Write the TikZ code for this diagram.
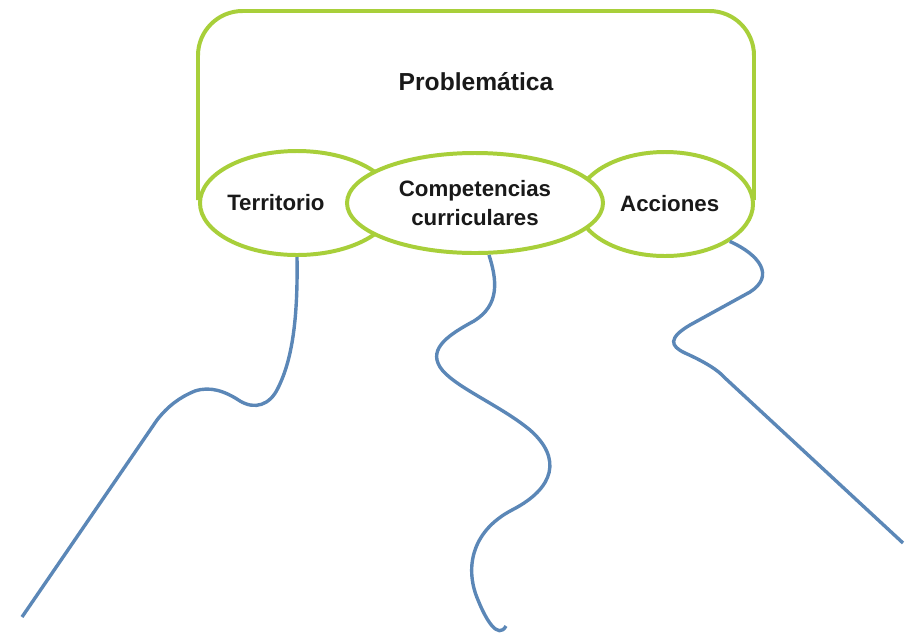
\documentclass[tikz,border=0pt]{standalone}
\usepackage{fontspec}
\setmainfont{Liberation Sans}
\usepackage{tikz}
\usetikzlibrary{calc,shapes.geometric}
\definecolor{verde}{RGB}{168,207,58}
\definecolor{azul}{RGB}{91,135,183}
\tikzset{
  marco/.style={draw=verde, line width=3.4pt, rounded corners=38pt},
  oval/.style={ellipse, draw=verde, line width=3.4pt, fill=white, inner sep=0pt},
  lbl/.style={font=\bfseries\fontsize{19}{23}\selectfont, align=center, text=black!90},
  hilo/.style={draw=azul, line width=2.9pt}
}

\begin{document}
\begin{tikzpicture}[x=0.03cm,y=-0.03cm]
        \useasboundingbox (0,0) rectangle (917,633);
        \draw[marco] (198,200) -- (198,11) -- (754,11) -- (754,200);
        \node[lbl, font=\bfseries\fontsize{21}{24}\selectfont] (prob) at (476,82) {Problemática};
        \node[oval, minimum width=5.82cm, minimum height=3.12cm,
            label={[lbl,xshift=-18pt]center:Territorio}] (terr) at (297,203) {};
        \node[oval, minimum width=5.28cm, minimum height=3.12cm,
            label={[lbl,xshift=4pt]center:Acciones}] (acc) at (665,204) {};
        \node[oval, minimum width=7.68cm, minimum height=3.0cm, lbl] (comp) at (475,203)
            {Competencias\\[1pt]curriculares};
        % hilos
        \draw[hilo] (terr.south) .. controls (298,320) and (292,360) .. (278,388)
            .. controls (270,405) and (255,410) .. (240,401)
            .. controls (225,391) and (210,386) .. (195,391)
            .. controls (180,397) and (168,406) .. (157,420) -- (22,617);
        \draw[hilo] ($(comp.south)+(14,0)$) .. controls (497,280) and (500,305) .. (474,321)
            .. controls (450,334) and (428,348) .. (440,367)
            .. controls (452,386) and (500,405) .. (530,430)
            .. controls (562,458) and (555,488) .. (512,510)
            .. controls (470,532) and (465,570) .. (478,600)
            .. controls (486,620) and (498,640) .. (506,626);
        \draw[hilo] (acc.-30) .. controls (760,255) and (775,276) .. (750,292)
            -- (690,325) .. controls (668,338) and (670,346) .. (685,353)
            .. controls (705,362) and (718,370) .. (725,378) -- (903,543);
\end{tikzpicture}
\end{document}
